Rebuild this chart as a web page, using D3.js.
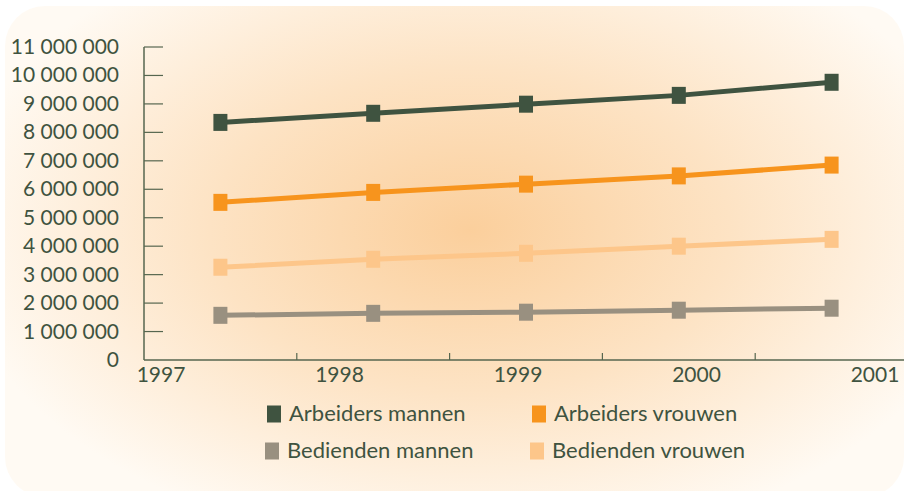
<!DOCTYPE html>
<html>
<head>
<meta charset="utf-8">
<script src="https://cdn.jsdelivr.net/npm/d3@7"></script>
<style>
  body { margin: 0; background: #fff; }
  svg { display: block; }
  text { font-family: Lato, "Open Sans", sans-serif; fill: #3f5340; }
</style>
</head>
<body>
<div id="chart"></div>
<script>
// data
var years = ["1997", "1998", "1999", "2000", "2001"];
var seriesNames = ["Arbeiders mannen", "Arbeiders vrouwen", "Bedienden mannen", "Bedienden vrouwen"];
var seriesColors = ["#3f5340", "#f7941d", "#999080", "#fdc68a"];
var arbeidersMannen = [8350000, 8670000, 8990000, 9300000, 9760000];
var arbeidersVrouwen = [5540000, 5890000, 6180000, 6470000, 6850000];
var bediendenMannen = [1570000, 1640000, 1680000, 1750000, 1820000];
var bediendenVrouwen = [3260000, 3540000, 3750000, 4000000, 4240000];
var yTicks = [0, 1000000, 2000000, 3000000, 4000000, 5000000, 6000000,
              7000000, 8000000, 9000000, 10000000, 11000000];

var series = [arbeidersMannen, arbeidersVrouwen, bediendenMannen, bediendenVrouwen];
var drawOrder = [0, 1, 3, 2];

var w = 904, h = 491;
var svg = d3.select("#chart").append("svg")
    .attr("width", w)
    .attr("height", h);

var defs = svg.append("defs");
var grad = defs.append("radialGradient")
    .attr("id", "bg")
    .attr("gradientUnits", "userSpaceOnUse")
    .attr("cx", 470).attr("cy", 230).attr("r", 520)
    .attr("gradientTransform", "translate(470,230) scale(1,0.62) translate(-470,-230)");
grad.append("stop").attr("offset", "0").attr("stop-color", "#fbcf9c");
grad.append("stop").attr("offset", "0.5").attr("stop-color", "#fde3c4");
grad.append("stop").attr("offset", "1").attr("stop-color", "#fffaf3");

svg.append("rect")
    .attr("x", 5).attr("y", 6)
    .attr("width", w - 5).attr("height", h)
    .attr("rx", 40).attr("ry", 40)
    .attr("fill", "url(#bg)");

var plotLeft = 144, plotRight = 908, plotTop = 47, plotBottom = 360;

var x = d3.scaleBand().domain(years).range([plotLeft, plotRight]).padding(0);
var y = d3.scaleLinear().domain([0, 11000000]).range([plotBottom, plotTop]);
// year labels sit a bit right of their ticks, drifting wider, like the original
var labelX = d3.scaleLinear().domain([0, 4]).range([161, 875]);

var fmt = function (v) {
    return d3.format(",")(v).replace(/,/g, " ");
};

// y axis
var yAxis = svg.append("g");
yAxis.append("line")
    .attr("x1", plotLeft).attr("x2", plotLeft)
    .attr("y1", y(11000000)).attr("y2", plotBottom)
    .attr("stroke", "#56664f").attr("stroke-width", 1.5);
yAxis.selectAll("line.tick")
    .data(yTicks.slice(1))
    .enter().append("line")
    .attr("class", "tick")
    .attr("x1", plotLeft).attr("x2", plotLeft + 19)
    .attr("y1", function (d) { return y(d); })
    .attr("y2", function (d) { return y(d); })
    .attr("stroke", "#56664f").attr("stroke-width", 1.2);
yAxis.selectAll("text")
    .data(yTicks)
    .enter().append("text")
    .attr("x", 119)
    .attr("y", function (d) { return y(d) + 7; })
    .attr("text-anchor", "end")
    .attr("font-size", 21)
    .text(function (d) { return fmt(d); });

// x axis
var xAxis = svg.append("g");
xAxis.append("line")
    .attr("x1", plotLeft).attr("x2", w)
    .attr("y1", plotBottom).attr("y2", plotBottom)
    .attr("stroke", "#56664f").attr("stroke-width", 1.5);
xAxis.selectAll("line.tick")
    .data(years.slice(1))
    .enter().append("line")
    .attr("class", "tick")
    .attr("x1", function (d) { return x(d); })
    .attr("x2", function (d) { return x(d); })
    .attr("y1", plotBottom - 7).attr("y2", plotBottom)
    .attr("stroke", "#56664f").attr("stroke-width", 1.2);
xAxis.selectAll("text")
    .data(years)
    .enter().append("text")
    .attr("x", function (d, i) { return labelX(i); })
    .attr("y", 382)
    .attr("text-anchor", "middle")
    .attr("font-size", 21)
    .text(function (d) { return d; });

// lines and markers
var line = d3.line()
    .x(function (d, i) { return x(years[i]) + x.bandwidth() / 2; })
    .y(function (d) { return y(d); });

drawOrder.forEach(function (s) {
    var g = svg.append("g");
    g.append("path")
        .datum(series[s])
        .attr("d", line)
        .attr("fill", "none")
        .attr("stroke", seriesColors[s])
        .attr("stroke-width", 5);
    g.selectAll("rect")
        .data(series[s])
        .enter().append("rect")
        .attr("x", function (d, i) { return x(years[i]) + x.bandwidth() / 2 - 7; })
        .attr("y", function (d) { return y(d) - 8.5; })
        .attr("width", 14)
        .attr("height", 17)
        .attr("fill", seriesColors[s]);
});

// legend
var legendX = [267, 532];
var legendY = [414, 451];
var legend = svg.append("g");
seriesNames.forEach(function (name, i) {
    var col = i % 2, row = Math.floor(i / 2);
    var lg = legend.append("g")
        .attr("transform", "translate(" + (legendX[col] - row * 2) + "," + legendY[row] + ")");
    lg.append("rect")
        .attr("x", 0).attr("y", -8.5)
        .attr("width", 14).attr("height", 17)
        .attr("fill", seriesColors[i]);
    lg.append("text")
        .attr("x", 22).attr("y", 7)
        .attr("font-size", 22)
        .text(name);
});
</script>
</body>
</html>
